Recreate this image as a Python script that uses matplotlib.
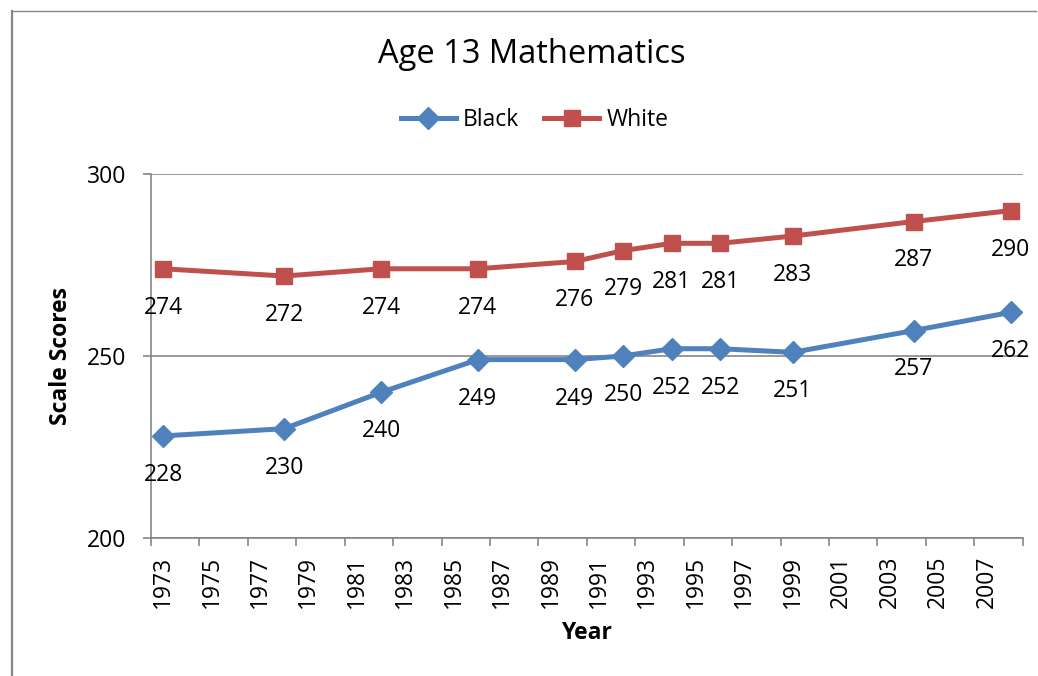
import numpy as np
import matplotlib.pyplot as plt
from matplotlib.lines import Line2D

years = [1973, 1978, 1982, 1986, 1990, 1992, 1994, 1996, 1999, 2004, 2008]
black = [228, 230, 240, 249, 249, 250, 252, 252, 251, 257, 262]
white = [274, 272, 274, 274, 276, 279, 281, 281, 283, 287, 290]
tick_years = list(range(1973, 2008, 2))

plt.rcParams['font.family'] = ['Open Sans', 'DejaVu Sans']
gray = '#868686'
blue = '#4F81BD'
red = '#C0504D'
fs = 16.5

fig = plt.figure(figsize=(10.38, 6.76), dpi=100)
ax = fig.add_axes([0.1455, 0.2046, 0.8398, 0.5376])

# outer chart border (only left and top visible)
fig.add_artist(Line2D([0.0115, 0.0115], [0, 0.984], transform=fig.transFigure, color=gray, lw=1.6))
fig.add_artist(Line2D([0.0115, 0.998], [0.984, 0.984], transform=fig.transFigure, color=gray, lw=1.0))

ax.plot(years, black, color=blue, lw=3.6, marker='D', ms=11, label='Black', zorder=3)
ax.plot(years, white, color=red, lw=3.6, marker='s', ms=12, label='White', zorder=3)

for x, y in zip(years, black):
    ax.annotate(str(y), (x, y), xytext=(0, -28), textcoords='offset points',
                ha='center', va='center', fontsize=fs)
for x, y in zip(years, white):
    ax.annotate(str(y), (x, y), xytext=(0, -28), textcoords='offset points',
                ha='center', va='center', fontsize=fs)

ax.set_xlim(1972.5, 2008.5)
ax.set_ylim(200, 300)
ax.set_yticks([200, 250, 300])
ax.grid(axis='y', color=gray, lw=1.2)
ax.set_axisbelow(True)

ax.set_xticks(np.arange(1972.5, 2008.6, 2))
ax.set_xticklabels([])
ax.set_xticks(tick_years, minor=True)
ax.set_xticklabels([str(y) for y in tick_years], minor=True, rotation=90, fontsize=fs)
ax.tick_params(axis='x', which='major', length=6, color=gray, width=1.2)
ax.tick_params(axis='x', which='minor', length=0, pad=13)
ax.tick_params(axis='y', length=6, color=gray, width=1.2, pad=12, labelsize=fs)

for s in ['top', 'right']:
    ax.spines[s].set_visible(False)
for s in ['left', 'bottom']:
    ax.spines[s].set_color(gray)
    ax.spines[s].set_linewidth(1.2)

ax.set_xlabel('Year', fontsize=fs, fontweight='bold', labelpad=9)
ax.set_ylabel('Scale Scores', fontsize=fs, fontweight='bold', labelpad=10)

fig.text(0.5125, 0.919, 'Age 13 Mathematics', ha='center', va='center', fontsize=23.5)
fig.legend(loc='center', bbox_to_anchor=(0.515, 0.822), ncol=2, frameon=False,
           fontsize=fs, handlelength=2.4, columnspacing=1.1, handletextpad=0.3)

fig.savefig('out.png', dpi=100)
